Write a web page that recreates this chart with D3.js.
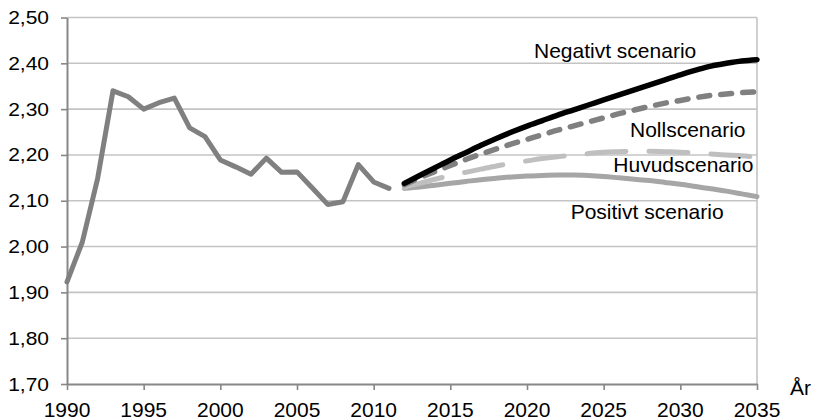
<!DOCTYPE html>
<html><head><meta charset="utf-8">
<script src="https://cdn.jsdelivr.net/npm/d3@7"></script>
<style>
html,body{margin:0;padding:0;background:#fff;}
text{font-family:"Liberation Sans",Arial,sans-serif;fill:#000;}
</style></head>
<body><svg id="c" width="816" height="419"></svg>
<script>
const histYears = [1990,1991,1992,1993,1994,1995,1996,1997,1998,1999,2000,2001,2002,2003,2004,2005,2006,2007,2008,2009,2010,2011];
const histValues = [1.923,2.010,2.149,2.340,2.327,2.300,2.314,2.324,2.259,2.240,2.189,2.174,2.158,2.193,2.162,2.163,2.128,2.092,2.098,2.179,2.141,2.127];
const projYears = [2012,2013,2014,2015,2016,2017,2018,2019,2020,2021,2022,2023,2024,2025,2026,2027,2028,2029,2030,2031,2032,2033,2034,2035];
const negativt = [2.138,2.155,2.172,2.189,2.205,2.221,2.236,2.250,2.263,2.275,2.287,2.298,2.309,2.320,2.331,2.342,2.353,2.364,2.375,2.385,2.394,2.400,2.405,2.408];
const noll = [2.135,2.150,2.164,2.177,2.190,2.202,2.213,2.224,2.234,2.244,2.254,2.263,2.272,2.281,2.290,2.298,2.306,2.313,2.319,2.325,2.330,2.333,2.336,2.338];
const huvud = [2.130,2.138,2.147,2.155,2.162,2.169,2.176,2.182,2.187,2.192,2.196,2.200,2.203,2.206,2.207,2.208,2.208,2.207,2.206,2.204,2.202,2.200,2.198,2.195];
const positivt = [2.127,2.130,2.134,2.138,2.142,2.146,2.149,2.152,2.154,2.155,2.156,2.156,2.155,2.153,2.150,2.147,2.144,2.140,2.136,2.131,2.126,2.121,2.115,2.109];
const xTicks = [1990,1995,2000,2005,2010,2015,2020,2025,2030,2035];
const yTicks = [1.70,1.80,1.90,2.00,2.10,2.20,2.30,2.40,2.50];
const seriesLabels = ["Negativt scenario","Nollscenario","Huvudscenario","Positivt scenario"];
const axisTitle = "År";

const svg = d3.select("#c");
const L = 67, R = 757, T = 17.5, B = 384;
const x = d3.scaleLinear().domain([1990,2035]).range([L,R]);
const y = d3.scaleLinear().domain([1.70,2.50]).range([B,T]);
const loc = d3.formatLocale({decimal:",",thousands:" ",grouping:[3],currency:["","kr"]});
const fmt = loc.format(".2f");

// gridlines
svg.append("g").selectAll("line").data(yTicks.filter(v=>v>1.7)).join("line")
  .attr("x1",L).attr("x2",R).attr("y1",d=>y(d)).attr("y2",d=>y(d))
  .attr("stroke","#c4c4c4").attr("stroke-width",1.6);
// right border
svg.append("line").attr("x1",R).attr("x2",R).attr("y1",T).attr("y2",B)
  .attr("stroke","#c4c4c4").attr("stroke-width",1.6);

// y axis
const ya = svg.append("g").attr("transform",`translate(${L},0)`)
  .call(d3.axisLeft(y).tickValues(yTicks).tickSize(6).tickSizeOuter(0).tickFormat(fmt));
ya.select(".domain").attr("stroke","#878787").attr("stroke-width",2);
ya.selectAll(".tick line").attr("stroke","#878787").attr("stroke-width",1.6);
ya.selectAll(".tick text").remove();
svg.append("g").selectAll("text").data(yTicks).join("text")
  .attr("transform",d=>`translate(49,${y(d)}) scale(1,0.87)`)
  .attr("y",7.5).attr("text-anchor","end").attr("font-size",21).text(d=>fmt(d));

// x axis
const xa = svg.append("g").attr("transform",`translate(0,${B})`)
  .call(d3.axisBottom(x).tickValues(xTicks).tickSize(6).tickSizeOuter(0).tickFormat(d3.format("d")));
xa.select(".domain").attr("stroke","#878787").attr("stroke-width",2);
xa.selectAll(".tick line").attr("stroke","#878787").attr("stroke-width",1.6);
xa.selectAll(".tick text").remove();
svg.append("g").selectAll("text").data(xTicks).join("text")
  .attr("x",d=>x(d)).attr("y",416.5).attr("text-anchor","middle").attr("font-size",21).text(d=>d);
svg.append("text").attr("x",790).attr("y",395).attr("font-size",21).text(axisTitle);

const line = d3.line().x(d=>x(d[0])).y(d=>y(d[1])).curve(d3.curveMonotoneX);
const lineLin = d3.line().x(d=>x(d[0])).y(d=>y(d[1]));
const zip = (a,b)=>a.map((v,i)=>[v,b[i]]);

svg.append("path").datum(zip(histYears,histValues)).attr("d",lineLin)
  .attr("fill","none").attr("stroke","#808080").attr("stroke-width",5)
  .attr("stroke-linejoin","round").attr("stroke-linecap","round");

svg.append("path").datum(zip(projYears,positivt)).attr("d",line)
  .attr("fill","none").attr("stroke","#a6a6a6").attr("stroke-width",5).attr("stroke-linecap","round");
svg.append("path").datum(zip(projYears,huvud)).attr("d",line)
  .attr("fill","none").attr("stroke","#bfbfbf").attr("stroke-width",5)
  .attr("stroke-dasharray","39,23").attr("stroke-linecap","round");
svg.append("path").datum(zip(projYears,noll)).attr("d",line)
  .attr("fill","none").attr("stroke","#808080").attr("stroke-width",5.5)
  .attr("stroke-dasharray","11,11").attr("stroke-linecap","round");
svg.append("path").datum(zip(projYears,negativt)).attr("d",line)
  .attr("fill","none").attr("stroke","#000").attr("stroke-width",5.5).attr("stroke-linecap","round");

const labelPos = [[534,58.3],[630,137.3],[613.3,171.7],[570.7,219]];
svg.append("g").selectAll("text").data(seriesLabels).join("text")
  .attr("x",(d,i)=>labelPos[i][0]).attr("y",(d,i)=>labelPos[i][1]).attr("font-size",21).text(d=>d);
</script></body></html>
